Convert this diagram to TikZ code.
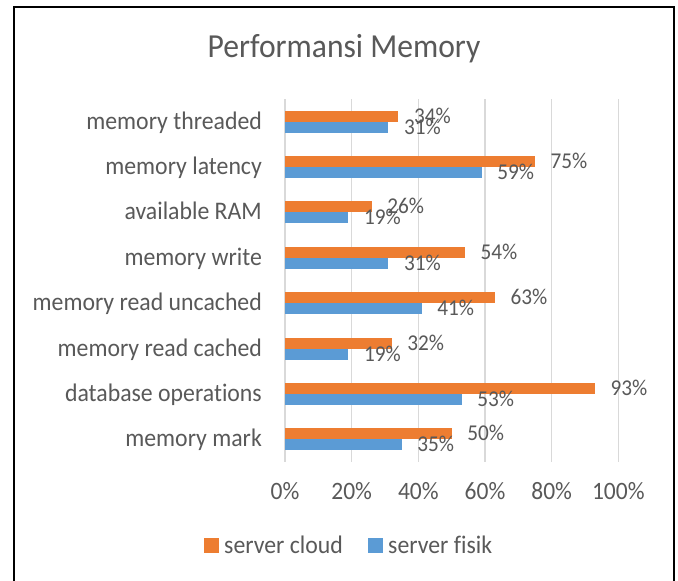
\documentclass[tikz,border=0pt]{standalone}
\usepackage{fontspec}
\setmainfont{Carlito}[FakeStretch=0.94,Ligatures=NoCommon]
\definecolor{cloud}{HTML}{ED7D31}
\definecolor{fisik}{HTML}{5B9BD5}
\definecolor{txt}{HTML}{595959}
\definecolor{gridc}{HTML}{D9D9D9}
\begin{document}
\begin{tikzpicture}[x=1pt,y=-1pt,
  cat/.style={anchor=base east,inner sep=0,text=txt,font=\fontsize{25.3}{30}\selectfont},
  val/.style={anchor=base west,inner sep=0,text=txt,font=\fontsize{22.6}{27}\selectfont},
  tick/.style={anchor=base,inner sep=0,text=txt,font=\fontsize{25}{30}\selectfont},
  leg/.style={anchor=base west,inner sep=0,text=txt,font=\fontsize{25.3}{30}\selectfont},
  gridline/.style={draw=gridc,line width=1.5pt}]
\useasboundingbox (0,0) rectangle (678,581);
\fill[white] (0,0) rectangle (678,581);
\draw[line width=2.5pt] (14,600) -- (14,7) -- (674,7) -- (674,600);
\node[anchor=base,inner sep=0,text=txt,font=\fontsize{33.6}{40}\selectfont] (title) at (344,57) {Performansi Memory};
\foreach \k in {0,...,5}{
  \pgfmathsetmacro\gx{285+66.667*\k}
  \draw[gridline] (\gx,99) -- (\gx,462);
  \pgfmathtruncatemacro\pc{20*\k}
  \node[tick] (tick\k) at (\gx,499.5) {\pc\%};
}
\foreach \i/\name/\o/\b in {0/memory threaded/34/31,1/memory latency/75/59,2/available RAM/26/19,3/memory write/54/31,4/memory read uncached/63/41,5/memory read cached/32/19,6/database operations/93/53,7/memory mark/50/35}{
  \pgfmathsetmacro\c{99+45.375*(\i+0.5)}
  \fill[cloud] (285,\c-11) rectangle (285+3.333*\o,\c);
  \fill[fisik] (285,\c) rectangle (285+3.333*\b,\c+11);
  \node[cat] (cat\i) at (262,\c+7.5) {\name};
  \node[val] (vo\i) at (285+3.333*\o+15.5,\c+1.5) {\o\%};
  \node[val] (vb\i) at (285+3.333*\b+15.5,\c+12.5) {\b\%};
}
\fill[cloud] (204,538) rectangle (219,553);
\node[leg] (lc) at (224,553.3) {server cloud};
\fill[fisik] (368,538) rectangle (383,553);
\node[leg] (lf) at (388,553.3) {server fisik};
\end{tikzpicture}
\end{document}
